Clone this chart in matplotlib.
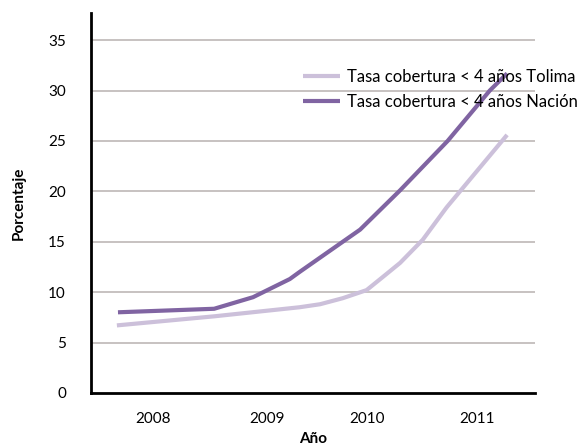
import matplotlib.pyplot as plt

# Tasa de cobertura < 4 años (porcentaje)
anio_tolima = [2007.67, 2008.57, 2009.36, 2009.55, 2009.76, 2009.98, 2010.13,
               2010.29, 2010.50, 2010.72, 2011.28]
tolima = [6.7, 7.6, 8.5, 8.8, 9.4, 10.2, 11.5, 12.9, 15.2, 18.4, 25.6]

anio_nacion = [2007.68, 2008.57, 2008.93, 2009.27, 2009.36, 2009.92, 2010.29,
               2010.73, 2011.12, 2011.28]
nacion = [8.0, 8.35, 9.5, 11.3, 12.0, 16.2, 20.1, 25.0, 30.0, 31.7]

anios = ["2008", "2009", "2010", "2011"]
pos_anios = [2008.0, 2009.06, 2009.98, 2011.0]

plt.rcParams["font.family"] = ["Lato", "DejaVu Sans"]

fig = plt.figure(figsize=(5.83, 4.46), dpi=100)
ax = fig.add_axes([0.156, 0.119, 0.762, 0.852])

ax.plot(anio_tolima, tolima, color="#ccc0da", lw=3, solid_capstyle="butt",
        label="Tasa cobertura < 4 años Tolima")
ax.plot(anio_nacion, nacion, color="#8064a2", lw=3, solid_capstyle="butt",
        label="Tasa cobertura < 4 años Nación")

ax.set_xlim(2007.43, 2011.54)
ax.set_ylim(0, 37.7)
ax.set_yticks(range(0, 36, 5))
ax.set_xticks(pos_anios)
ax.set_xticklabels(anios)
ax.tick_params(length=0, labelsize=11)
ax.tick_params(axis="x", pad=14)
ax.tick_params(axis="y", pad=18)

# líneas de cuadrícula (sin la de 0)
for v in range(5, 36, 5):
    ax.axhline(v, color="#bdb8b6", lw=1.2, zorder=0)

for s in ["top", "right"]:
    ax.spines[s].set_visible(False)
for s in ["left", "bottom"]:
    ax.spines[s].set_linewidth(2)
    ax.spines[s].set_color("black")

ax.set_xlabel("Año", fontsize=11, fontweight="bold", labelpad=4)
ax.set_ylabel("Porcentaje", fontsize=11, fontweight="bold", labelpad=16)

ax.legend(loc="upper left", bbox_to_anchor=(0.52, 0.845),
          bbox_transform=fig.transFigure, frameon=False, fontsize=12,
          handlelength=2.2, handletextpad=0.45, labelspacing=0.55,
          borderpad=0, borderaxespad=0)

fig.savefig("out.png", dpi=100)
